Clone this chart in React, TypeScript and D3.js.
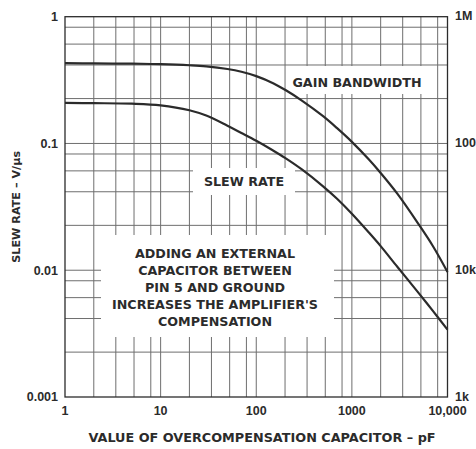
import * as d3 from "d3";

// capacitance in pF
const capacitance = [1, 2, 5, 10, 20, 30, 50, 70, 100, 150, 200, 300, 500, 700, 1000, 1500, 2000, 3000, 5000, 7000, 10000];
// slew rate, V/us (left axis)
const slewRate = [
  0.209, 0.208, 0.206, 0.2, 0.183, 0.166, 0.138, 0.121, 0.105, 0.088, 0.077,
  0.0624, 0.0459, 0.0366, 0.0279, 0.0199, 0.0155, 0.0106, 0.0066, 0.0048, 0.0034,
];
// gain bandwidth, Hz (right axis)
const gainBandwidth = [
  430e3, 428e3, 426e3, 422e3, 414e3, 406e3, 387e3, 368e3, 340e3, 299e3, 265e3,
  218e3, 164e3, 132e3, 103e3, 75e3, 58.5e3, 40e3, 23e3, 15.6e3, 9.7e3,
];

const xTicks = [1, 10, 100, 1000, 10000];
const xTickLabels = ["1", "10", "100", "1000", "10,000"];
const yTicks = [1, 0.1, 0.01, 0.001];
const yTickLabels = ["1", "0.1", "0.01", "0.001"];
const rightTicks = [1e6, 1e5, 1e4, 1e3];
const rightTickLabels = ["1M", "100k", "10k", "1k"];
// grid lines inside each decade (the printed grid is not at 2..9)
const xMinor = [2, 3.4, 5.27, 7.89];
const yMinor = [2.26, 4.16, 6.08, 8.26];

const noteLines = [
  "ADDING AN EXTERNAL",
  "CAPACITOR BETWEEN",
  "PIN 5 AND GROUND",
  "INCREASES THE AMPLIFIER'S",
  "COMPENSATION",
];

const width = 476;
const height = 449;
const left = 65;
const right = 447.5;
const top = 16.7;
const bottom = 397;

const tickFont = "'Liberation Sans', Arial, sans-serif";
const textFont = "'DejaVu Sans', sans-serif";
const ink = "#2b2b2b";
const gridColor = "#6e6e6e";

export default function App() {
  const x = d3.scaleLog().domain([1, 10000]).range([left, right]);
  const y = d3.scaleLog().domain([0.001, 1]).range([bottom, top]);
  const yR = d3.scaleLog().domain([1e3, 1e6]).range([bottom, top]);

  const xGrid: number[] = [];
  [1, 10, 100, 1000].forEach((d) => {
    if (d > 1) xGrid.push(d);
    xMinor.forEach((m) => xGrid.push(d * m));
  });
  const yGrid: number[] = [];
  [0.001, 0.01, 0.1].forEach((d) => {
    if (d > 0.001) yGrid.push(d);
    yMinor.forEach((m) => yGrid.push(d * m));
  });

  const line = d3.line<number>().curve(d3.curveCatmullRom.alpha(0.5));
  const slewPath = line(capacitance.map((c, i) => [x(c), y(slewRate[i])] as any) as any);
  const gbwPath = line(capacitance.map((c, i) => [x(c), yR(gainBandwidth[i])] as any) as any);

  const tick = { fontFamily: tickFont, fontWeight: 700, fill: ink, fontSize: 12.5 } as const;
  const label = { fontFamily: textFont, fontWeight: 700, fill: ink } as const;

  return (
    <svg width={width} height={height} style={{ position: "absolute", left: 0, top: 0, background: "#fff" }}>
      <rect width={width} height={height} fill="#fff" />
      {/* grid */}
      {xGrid.map((v, i) => (
        <line key={"gx" + i} x1={x(v)} x2={x(v)} y1={top} y2={bottom} stroke={gridColor} strokeWidth={1} />
      ))}
      {yGrid.map((v, i) => (
        <line key={"gy" + i} x1={left} x2={right} y1={y(v)} y2={y(v)} stroke={gridColor} strokeWidth={1} />
      ))}
      {/* white boxes behind the notes */}
      <rect x={287} y={66} width={141} height={28} fill="#fff" />
      <rect x={193} y={168} width={102} height={27} fill="#fff" />
      <rect x={101} y={235} width={233} height={102} fill="#fff" />
      {/* frame */}
      <rect x={left} y={top} width={right - left} height={bottom - top} fill="none" stroke={ink} strokeWidth={1.3} />
      {/* curves */}
      <path d={gbwPath || ""} fill="none" stroke={ink} strokeWidth={2.2} />
      <path d={slewPath || ""} fill="none" stroke={ink} strokeWidth={2.2} />
      {/* tick labels */}
      {yTicks.map((v, i) => (
        <text key={"yl" + i} x={58} y={y(v)} dy="0.35em" textAnchor="end" {...tick}>
          {yTickLabels[i]}
        </text>
      ))}
      {rightTicks.map((v, i) => (
        <text key={"rl" + i} x={455} y={yR(v)} dy="0.3em" textAnchor="start" {...tick}>
          {rightTickLabels[i]}
        </text>
      ))}
      {xTicks.map((v, i) => (
        <text key={"xl" + i} x={x(v)} y={414.5} textAnchor="middle" {...tick}>
          {xTickLabels[i]}
        </text>
      ))}
      {/* axis titles */}
      <text x={262} y={442} textAnchor="middle" fontSize={12.8} {...label}>
        VALUE OF OVERCOMPENSATION CAPACITOR – pF
      </text>
      <text transform={`translate(20,${(top + bottom) / 2}) rotate(-90)`} textAnchor="middle" fontSize={11.2} {...label}>
        SLEW RATE – V/µs
      </text>
      {/* notes */}
      <text x={357} y={87} textAnchor="middle" fontSize={12.7} {...label}>GAIN BANDWIDTH</text>
      <text x={244} y={186} textAnchor="middle" fontSize={12.7} {...label}>SLEW RATE</text>
      {noteLines.map((s, i) => (
        <text key={"n" + i} x={215} y={258 + i * 17} textAnchor="middle" fontSize={12.7} {...label}>
          {s}
        </text>
      ))}
    </svg>
  );
}
